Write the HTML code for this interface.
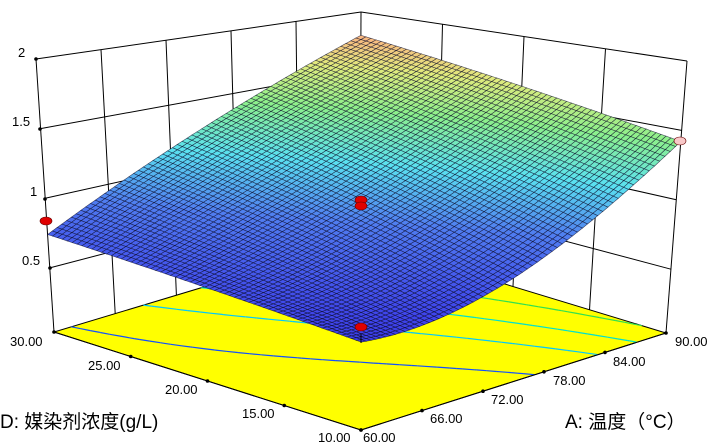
<!DOCTYPE html>
<html><head><meta charset="utf-8"><style>
html,body{margin:0;padding:0;background:#fff;width:723px;height:445px;overflow:hidden}
svg{display:block}
text{font-family:"Liberation Sans","Noto Sans CJK SC",sans-serif;fill:#000}
</style></head><body>
<svg id="s" width="723" height="445" viewBox="0 0 723 445" xmlns="http://www.w3.org/2000/svg">
<g id="walls"></g><g id="floor"></g><g id="surf"></g><g id="top"></g>
<text x="10" y="346" font-size="13">30.00</text>
<text x="88" y="370" font-size="13">25.00</text>
<text x="165" y="394" font-size="13">20.00</text>
<text x="242" y="418" font-size="13">15.00</text>
<text x="318" y="442" font-size="13">10.00</text>
<text x="363" y="442" font-size="13">60.00</text>
<text x="430" y="423" font-size="13">66.00</text>
<text x="491" y="404" font-size="13">72.00</text>
<text x="553" y="385" font-size="13">78.00</text>
<text x="613" y="366" font-size="13">84.00</text>
<text x="675" y="346" font-size="13">90.00</text>
<text x="18" y="57" font-size="13">2</text>
<text x="12" y="126" font-size="13">1.5</text>
<text x="30" y="196" font-size="13">1</text>
<text x="22" y="265" font-size="13">0.5</text>
<text x="0" y="428" font-size="19">D: 媒染剂浓度(g/L)</text>
<text x="565" y="428" font-size="19">A: 温度（°C）</text>
</svg>
<script>
var NS="http://www.w3.org/2000/svg";
var F00=[361,430],F10=[666,333],F01=[54,332],F11=[360,240];
var T00=[362,105],T10=[687,61],T01=[36,59],T11=[361,12];
var Z0=0.04,Z1=2.0;
function bl(p00,p10,p01,p11,a,d){return[(1-a)*(1-d)*p00[0]+a*(1-d)*p10[0]+(1-a)*d*p01[0]+a*d*p11[0],(1-a)*(1-d)*p00[1]+a*(1-d)*p10[1]+(1-a)*d*p01[1]+a*d*p11[1]];}
function P(a,d,z){var t=(z-Z0)/(Z1-Z0);var f=bl(F00,F10,F01,F11,a,d),g=bl(T00,T10,T01,T11,a,d);return[f[0]+(g[0]-f[0])*t,f[1]+(g[1]-f[1])*t];}
function zf(a,d){var b=(1-a)*(1-d)*0.57+a*(1-d)*1.42+(1-a)*d*0.74+a*d*1.80;return b-0.26*4*a*(1-a)*(1-d);}
function el(tag,at,par){var e=document.createElementNS(NS,tag);for(var k in at)e.setAttribute(k,at[k]);document.getElementById(par).appendChild(e);return e;}
function line(p,q,par,c,w){el("line",{x1:p[0].toFixed(1),y1:p[1].toFixed(1),x2:q[0].toFixed(1),y2:q[1].toFixed(1),stroke:c||"#000","stroke-width":w||1},par);}
function pts(a){return a.map(function(p){return p[0].toFixed(1)+","+p[1].toFixed(1)}).join(" ");}
var zs=[0.5,1,1.5];
for(var i=1;i<5;i++){var a=i/5;line(P(a,1,Z0),P(a,1,Z1),"walls");}
for(var i=1;i<4;i++){var d=i/4;line(P(1,d,Z0),P(1,d,Z1),"walls");}
zs.forEach(function(z){line(P(0,1,z),P(1,1,z),"walls");line(P(1,1,z),P(1,0,z),"walls");});
line(P(0,1,Z1),P(1,1,Z1),"walls");line(P(1,1,Z1),P(1,0,Z1),"walls");
line(P(0,1,Z0),P(0,1,Z1),"walls");line(P(1,1,Z0),P(1,1,Z1),"walls");line(P(1,0,Z0),P(1,0,Z1),"walls");
el("polygon",{points:pts([P(0,0,Z0),P(1,0,Z0),P(1,1,Z0),P(0,1,Z0)]),fill:"#ffff00",stroke:"#000","stroke-width":1},"floor");
var N=40,levels=[[0.8,"#1050ff"],[1.05,"#00c8ff"],[1.25,"#00e0d0"],[1.45,"#30e050"]];
levels.forEach(function(L){var lv=L[0];
for(var i=0;i<N;i++)for(var j=0;j<N;j++){
 var a0=i/N,a1=(i+1)/N,d0=j/N,d1=(j+1)/N;
 var c=[[a0,d0],[a1,d0],[a1,d1],[a0,d1]];var v=c.map(function(p){return zf(p[0],p[1])});
 var cr=[];for(var k=0;k<4;k++){var k2=(k+1)%4;if((v[k]-lv)*(v[k2]-lv)<0){var t=(lv-v[k])/(v[k2]-v[k]);cr.push([c[k][0]+(c[k2][0]-c[k][0])*t,c[k][1]+(c[k2][1]-c[k][1])*t]);}}
 if(cr.length>=2)line(P(cr[0][0],cr[0][1],Z0),P(cr[1][0],cr[1][1],Z0),"floor",L[1],1.2);
}});
var stops=[[0,[60,60,235]],[0.28,[80,125,240]],[0.48,[90,225,240]],[0.68,[140,240,140]],[0.85,[225,235,125]],[1,[255,175,130]]];
function cm(z){var t=(z-0.55)/(1.82-0.55);t=Math.max(0,Math.min(1,t));for(var k=1;k<stops.length;k++){if(t<=stops[k][0]){var s=(t-stops[k-1][0])/(stops[k][0]-stops[k-1][0]);var A=stops[k-1][1],B=stops[k][1];return"rgb("+[0,1,2].map(function(m){return Math.round(A[m]+(B[m]-A[m])*s)}).join(",")+")";}}return"rgb(255,175,130)";}
var M=64,cells=[];
for(var i=0;i<M;i++)for(var j=0;j<M;j++)cells.push([i,j]);
cells.sort(function(x,y){return(y[0]+y[1])-(x[0]+x[1]);});
var sg=document.getElementById("surf"),html="";
cells.forEach(function(c){var a0=c[0]/M,a1=(c[0]+1)/M,d0=c[1]/M,d1=(c[1]+1)/M;
 var q=[P(a0,d0,zf(a0,d0)),P(a1,d0,zf(a1,d0)),P(a1,d1,zf(a1,d1)),P(a0,d1,zf(a0,d1))];
 var z=zf((a0+a1)/2,(d0+d1)/2);
 html+='<polygon points="'+pts(q)+'" fill="'+cm(z)+'" stroke="rgba(10,10,40,0.7)" stroke-width="0.6"/>';});
sg.innerHTML=html;
line(P(0,0,Z0),P(1,0,Z0),"top");line(P(0,0,Z0),P(0,1,Z0),"top");
for(var i=0;i<=5;i++){var p=P(i/5,0,Z0);el("circle",{cx:p[0],cy:p[1],r:1.8,fill:"#000"},"top");}
for(var i=0;i<=4;i++){var p=P(0,i/4,Z0);el("circle",{cx:p[0],cy:p[1],r:1.8,fill:"#000"},"top");}
[[36,59],[40,129],[45,199],[50,268]].forEach(function(p){el("circle",{cx:p[0],cy:p[1],r:1.8,fill:"#000"},"top");});
line([361,334],[361,343],"top","#000",1);
[[46,221,"#e00000"],[361,200,"#e00000"],[361,206,"#e00000"],[361,327,"#e00000"],[680,141,"#f8c8c8"]].forEach(function(r){el("ellipse",{cx:r[0],cy:r[1],rx:6,ry:4,fill:r[2],stroke:"#600","stroke-width":0.6},"top");});
</script>
</body></html>
